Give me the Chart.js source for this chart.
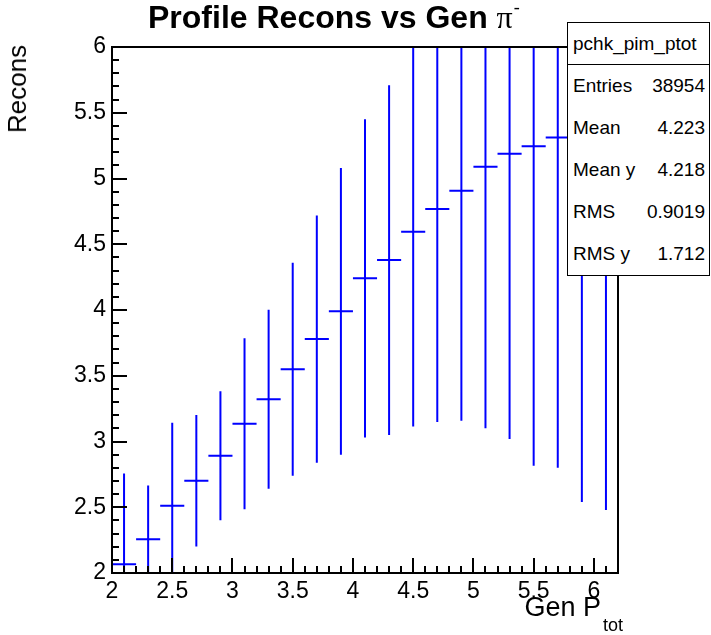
<!DOCTYPE html>
<html>
<head>
<meta charset="utf-8">
<script src="https://cdn.jsdelivr.net/npm/chart.js@4/dist/chart.umd.min.js"></script>
<style>
  body { margin: 0; background: #fff; }
  #wrap { position: relative; width: 711px; height: 635px; font-family: "Liberation Sans", Arial, sans-serif; }
  #plot { position: absolute; left: 0; top: 0; }
  #title { position: absolute; left: 148px; top: 1px; font-size: 32px; line-height: 32px; font-weight: bold; white-space: nowrap; }
  #title .pi { font-family: "Liberation Serif", "DejaVu Serif", serif; font-weight: normal; font-size: 32px; }
  #title sup { font-size: 18px; position: relative; top: -15px; vertical-align: baseline; margin-left: 1px; }
  #ylabel { position: absolute; left: 4px; top: 45px; font-size: 26px; line-height: 26px; writing-mode: vertical-rl; transform: rotate(180deg); transform-origin: center; white-space: nowrap; }
  #xlabel { position: absolute; right: 88px; top: 594px; font-size: 27px; line-height: 27px; white-space: nowrap; }
  #xlabel sub { font-size: 18px; position: relative; top: 15px; vertical-align: baseline; margin-left: 2px; }
  #stats { position: absolute; left: 567px; top: 22px; width: 141px; height: 252px; background: #fff; border: 1.5px solid #000; font-size: 19px; }
  #stats .head { height: 42px; line-height: 42px; border-bottom: 1.5px solid #000; padding-left: 5px; box-sizing: border-box; }
  #stats .row { display: flex; justify-content: space-between; height: 42px; line-height: 42px; padding: 0 4px 0 5px; }
</style>
</head>
<body>
<div id="wrap">
  <canvas id="plot" width="711" height="635"></canvas>
  <div id="title">Profile Recons vs Gen <span class="pi">π<sup>-</sup></span></div>
  <div id="ylabel">Recons</div>
  <div id="xlabel">Gen P<sub>tot</sub></div>
  <div id="stats"></div>
</div>
<script>
// profile bins (Gen P_tot), mean Recons and spread per bin
const binCenters = [2.1, 2.3, 2.5, 2.7, 2.9, 3.1, 3.3, 3.5, 3.7, 3.9, 4.1, 4.3, 4.5, 4.7, 4.9, 5.1, 5.3, 5.5, 5.7, 5.9, 6.1];
const binMeans   = [2.066, 2.256, 2.512, 2.702, 2.892, 3.135, 3.321, 3.549, 3.779, 3.990, 4.241, 4.380, 4.595, 4.768, 4.907, 5.090, 5.189, 5.245, 5.311, 5.40, 5.45];
const binErrors  = [0.69, 0.41, 0.63, 0.50, 0.49, 0.65, 0.68, 0.81, 0.94, 1.09, 1.21, 1.33, 1.48, 1.62, 1.75, 1.99, 2.17, 2.43, 2.51, 2.86, 2.97];
const binWidth = 0.2;

const xTicks = [2, 2.5, 3, 3.5, 4, 4.5, 5, 5.5, 6];
const yTicks = [2, 2.5, 3, 3.5, 4, 4.5, 5, 5.5, 6];

const statsName = "pchk_pim_ptot";
const statsLabels = ["Entries", "Mean", "Mean y", "RMS", "RMS y"];
const statsValues = ["38954", "4.223", "4.218", "0.9019", "1.712"];

// stats box
const statsBox = document.getElementById("stats");
statsBox.innerHTML = '<div class="head">' + statsName + '</div>' +
  statsLabels.map((l, i) => '<div class="row"><span>' + l + '</span><span>' + statsValues[i] + '</span></div>').join("");

// build line segments, null breaks them apart
const hSegments = [];
const vSegments = [];
const centers = [];
binCenters.forEach((x, i) => {
  const m = binMeans[i], e = binErrors[i];
  hSegments.push({ x: x - binWidth / 2, y: m }, { x: x + binWidth / 2, y: m }, { x: x, y: null });
  vSegments.push({ x: x, y: m - e }, { x: x, y: m + e }, { x: x, y: null });
  centers.push({ x: x, y: m });
});

// ROOT-style frame with ticks pointing inward
const rootFrame = {
  id: "rootFrame",
  afterDatasetsDraw(chart) {
    const { ctx, chartArea: a, scales } = chart;
    const xs = scales.x, ys = scales.y;
    ctx.save();
    ctx.strokeStyle = "#000";
    ctx.lineWidth = 2;
    ctx.beginPath();
    for (let i = 0; i <= 42; i++) {
      const v = 2 + i * 0.1;
      const px = Math.round(xs.getPixelForValue(v));
      const len = i % 5 === 0 ? 15 : 7;
      ctx.moveTo(px, a.bottom);
      ctx.lineTo(px, a.bottom - len);
    }
    for (let i = 0; i <= 40; i++) {
      const v = 2 + i * 0.1;
      const py = Math.round(ys.getPixelForValue(v));
      const len = i % 5 === 0 ? 15 : 7;
      ctx.moveTo(a.left, py);
      ctx.lineTo(a.left + len, py);
    }
    ctx.stroke();
    ctx.strokeRect(a.left, a.top, a.right - a.left, a.bottom - a.top);
    ctx.restore();
  }
};

const tickFont = { family: "'Liberation Sans', Arial, sans-serif", size: 23 };

new Chart(document.getElementById("plot").getContext("2d"), {
  type: "scatter",
  data: {
    datasets: [
      { data: vSegments, showLine: true, borderColor: "#0000ff", borderWidth: 2, pointRadius: 0, spanGaps: false, clip: 0 },
      { data: hSegments, showLine: true, borderColor: "#0000ff", borderWidth: 2, pointRadius: 0, spanGaps: false, clip: 0 },
      { data: centers, showLine: false, pointRadius: 1, pointBackgroundColor: "#000", pointBorderWidth: 0, clip: 0 }
    ]
  },
  options: {
    responsive: false,
    animation: false,
    layout: { padding: { top: 47, right: 93, left: 0, bottom: 0 } },
    plugins: { legend: { display: false }, tooltip: { enabled: false } },
    scales: {
      x: {
        type: "linear", min: 2, max: 6.2,
        grid: { display: false, drawTicks: false },
        border: { display: false },
        afterBuildTicks: s => { s.ticks = xTicks.map(v => ({ value: v })); },
        afterFit: s => { s.height = 62; },
        ticks: { color: "#000", font: tickFont, padding: 5, maxRotation: 0, autoSkip: false, callback: v => String(+v.toFixed(2)) }
      },
      y: {
        type: "linear", min: 2, max: 6,
        grid: { display: false, drawTicks: false },
        border: { display: false },
        afterBuildTicks: s => { s.ticks = yTicks.map(v => ({ value: v })); },
        afterFit: s => { s.width = 112; },
        ticks: { color: "#000", font: tickFont, padding: 6, autoSkip: false, callback: v => String(+v.toFixed(2)) }
      }
    }
  },
  plugins: [rootFrame]
});
</script>
</body>
</html>
